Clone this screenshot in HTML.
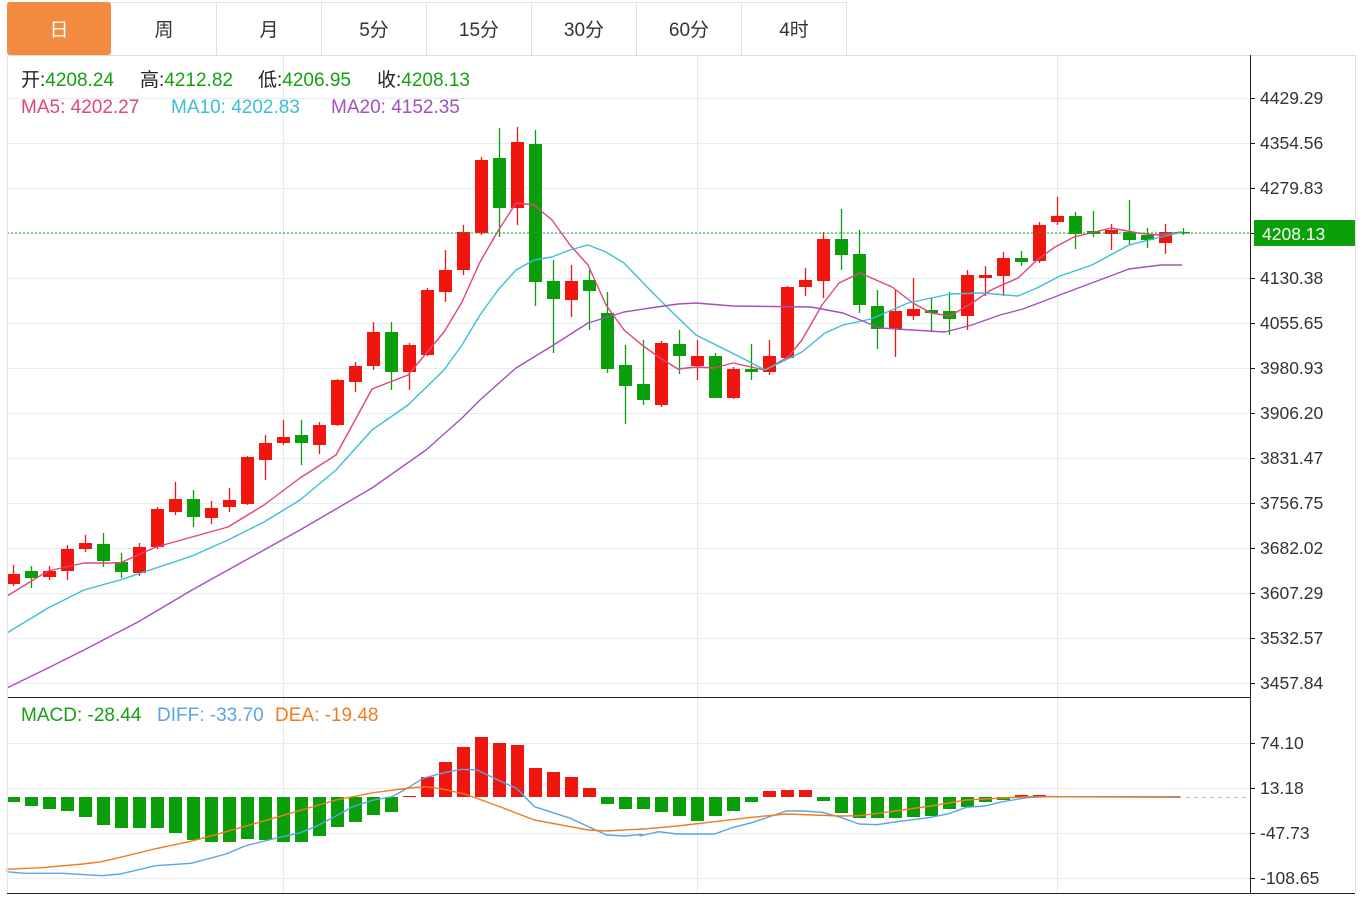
<!DOCTYPE html>
<html><head><meta charset="utf-8"><style>
body{margin:0;background:#fff;width:1371px;height:897px;overflow:hidden;font-family:"Liberation Sans","Noto Sans CJK SC",sans-serif}
svg{position:absolute;left:0;top:0}
</style></head><body>
<svg id="s" width="1371" height="897" xmlns="http://www.w3.org/2000/svg" font-family="Liberation Sans, Noto Sans CJK SC, sans-serif">
<rect x="0" y="0" width="1371" height="897" fill="#fff"/>
<g id="grid"></g>
<line x1="7" y1="55.5" x2="1355" y2="55.5" stroke="#ddd"/>
<line x1="7" y1="2.5" x2="846" y2="2.5" stroke="#e4e4e4"/>
<rect x="7" y="2" width="104" height="53" rx="3" fill="#f38b41"/>
<g stroke="#e0e0e0"><line x1="216.5" y1="2" x2="216.5" y2="55"/><line x1="321.5" y1="2" x2="321.5" y2="55"/><line x1="426.5" y1="2" x2="426.5" y2="55"/><line x1="531.5" y1="2" x2="531.5" y2="55"/><line x1="636.5" y1="2" x2="636.5" y2="55"/><line x1="741.5" y1="2" x2="741.5" y2="55"/><line x1="846.5" y1="2" x2="846.5" y2="55"/></g>
<g font-size="19" text-anchor="middle" fill="#333">
<text x="59" y="36" fill="#fff">日</text><text x="164" y="36">周</text><text x="269" y="36">月</text><text x="374" y="36">5分</text><text x="479" y="36">15分</text><text x="584" y="36">30分</text><text x="689" y="36">60分</text><text x="794" y="36">4时</text></g>
<g font-size="19">
<text x="21" y="86" fill="#222">开:<tspan fill="#15a015">4208.24</tspan></text>
<text x="140" y="86" fill="#222">高:<tspan fill="#15a015">4212.82</tspan></text>
<text x="258" y="86" fill="#222">低:<tspan fill="#15a015">4206.95</tspan></text>
<text x="377" y="86" fill="#222">收:<tspan fill="#15a015">4208.13</tspan></text>
<text x="21" y="113" fill="#e0457b">MA5: 4202.27</text>
<text x="171" y="113" fill="#3bbfd3">MA10: 4202.83</text>
<text x="331" y="113" fill="#a350bd">MA20: 4152.35</text>
<text x="21" y="721" fill="#15a015">MACD: -28.44</text>
<text x="157" y="721" fill="#5aa4e6">DIFF: -33.70</text>
<text x="275" y="721" fill="#f07c22">DEA: -19.48</text>
</g>
<g font-size="17.5" fill="#333">
<text x="1260" y="104">4429.29</text><text x="1260" y="149">4354.56</text><text x="1260" y="194">4279.83</text><text x="1260" y="284">4130.38</text><text x="1260" y="329">4055.65</text><text x="1260" y="374">3980.93</text><text x="1260" y="419">3906.20</text><text x="1260" y="464">3831.47</text><text x="1260" y="509">3756.75</text><text x="1260" y="554">3682.02</text><text x="1260" y="599">3607.29</text><text x="1260" y="644">3532.57</text><text x="1260" y="689">3457.84</text>
<text x="1260" y="749">74.10</text><text x="1260" y="794">13.18</text><text x="1260" y="839">-47.73</text><text x="1260" y="884">-108.65</text>
</g>
<g id="plot"></g>
<line x1="7" y1="233" x2="1250" y2="233" stroke="#1aa51a" stroke-dasharray="2,2"/>
<line x1="1186" y1="797.5" x2="1250" y2="797.5" stroke="#a8c8e0" stroke-dasharray="4,4"/>
<rect x="1254" y="220" width="101" height="26" fill="#0aa00a"/>
<text x="1262" y="240" font-size="17.5" fill="#fff">4208.13</text>
<line x1="7" y1="697.5" x2="1250" y2="697.5" stroke="#222"/>
<line x1="7" y1="893.5" x2="1355" y2="893.5" stroke="#222"/>
<line x1="1250.5" y1="55" x2="1250.5" y2="893" stroke="#222"/>
<line x1="1355.5" y1="55" x2="1355.5" y2="893" stroke="#e0e0e0"/>
<line x1="7.5" y1="55" x2="7.5" y2="893" stroke="#e6e6e6"/>
</svg>
<script>
var NS="http://www.w3.org/2000/svg";
function el(p,t,a){var e=document.createElementNS(NS,t);for(var k in a)e.setAttribute(k,a[k]);p.appendChild(e);return e;}
var g=document.getElementById('grid'),p=document.getElementById('plot');
[98,143,188,233,278,323,368,413,458,503,548,593,638,683,743,788,833,878].forEach(function(y){el(g,'line',{x1:7,x2:1250,y1:y+.5,y2:y+.5,stroke:'#e6edf2'});el(g,'line',{x1:1250,x2:1255,y1:y+.5,y2:y+.5,stroke:'#222'});});
[283,697,1057].forEach(function(x){el(g,'line',{x1:x+.5,x2:x+.5,y1:55,y2:893,stroke:'#e2eaf0'});});
var C=[["R",574,584,565,586],["G",571,578,566,588],["R",571,577,566,580],["R",549,571,545,580],["R",543,549,535,552],["G",544,561,533,567],["G",562,572,553,578],["R",547,573,543,576],["R",509,547,507,549],["R",499,512,482,515],["G",499,517,490,527],["R",508,518,501,524],["R",500,507,488,512],["R",457,504,456,505],["R",443,460,435,480],["R",437,443,420,445],["G",435,443,420,465],["R",425,445,422,454],["R",380,425,379,426],["R",366,382,362,392],["R",332,366,322,370],["G",332,372,322,390],["R",345,372,343,390],["R",290,355,288,356],["R",270,292,250,302],["R",232,270,225,275],["R",160,233,157,235],["G",158,208,128,237],["R",142,208,127,225],["G",144,282,130,306],["G",281,299,260,353],["R",281,300,265,317],["G",280,291,270,330],["G",313,369,292,373],["G",365,386,345,424],["G",384,400,340,405],["R",343,405,341,407],["G",344,356,330,374],["R",356,366,340,380],["G",356,398,353,398],["R",369,398,367,399],["G",369,372,344,380],["R",356,372,340,375],["R",287,358,286,359],["R",280,287,268,296],["R",239,281,232,298],["G",239,255,209,270],["G",254,305,230,313],["G",306,329,290,349],["R",311,329,290,357],["R",309,316,278,320],["G",310,313,298,332],["G",311,319,292,335],["R",275,316,270,330],["R",275,278,266,296],["R",258,276,252,296],["G",258,262,251,266],["R",225,261,222,263],["R",216,222,197,225],["G",216,234,212,249],["G",231,234,211,237],["R",230,234,224,250],["G",232,240,200,245],["G",235,240,228,248],["R",232,243,224,254],["G",232,233,228,235]];
C.forEach(function(c,i){var x=13+i*18,col=c[0]=="R"?"#f0150f":"#0a9e0a";el(p,'line',{x1:x+.5,x2:x+.5,y1:c[3],y2:c[4],stroke:col,'stroke-width':1.3});el(p,'rect',{x:x-6,y:c[1],width:13,height:Math.max(1.5,c[2]-c[1]),fill:col});});
var H=[802,806,809,811,817,825,828,828,828,833,840,842,842,839,840,842,842,836,827,822,815,812,796,777,762,747,737,743,745,768,772,777,788,804,809,809,812,816,821,816,811,802,791,790,790,801,813,818,818,818,817,816,809,807,802,800,795,795,797,797,797,797,797,797,797,797];
H.forEach(function(v,i){var x=13+i*18,z=797;var col=v<z?"#f0150f":"#0a9e0a";if(Math.abs(v-z)<0.5)return;el(p,'rect',{x:x-6,y:Math.min(v,z),width:13,height:Math.abs(v-z),fill:col});});
function pl(pts,col){el(p,'polyline',{points:pts.map(function(a){return a.join(',')}).join(' '),fill:'none',stroke:col,'stroke-width':1.4,'stroke-linejoin':'round'});}
pl([[7,596],[48,571],[84,563],[120,563],[156,547],[192,537],[228,527],[264,505],[300,478],[336,455],[372,389],[408,375],[444,332],[462,302],[480,262],[498,231],[516,203],[534,205],[552,220],[570,245],[588,265],[606,305],[624,330],[642,345],[660,358],[678,369],[696,367],[714,368],[733,363],[765,370],[788,357],[802,340],[822,305],[839,283],[860,273],[892,287],[913,303],[931,313],[950,316],[972,303],[991,290],[1018,278],[1037,260],[1055,247],[1074,237],[1111,228],[1138,233],[1157,235],[1182,232]],"#e0457b");
pl([[7,633],[48,608],[84,590],[120,580],[156,568],[192,556],[228,540],[264,522],[300,500],[336,470],[372,430],[408,405],[444,370],[462,345],[480,315],[498,290],[516,270],[534,260],[552,257],[570,250],[588,245],[606,252],[624,263],[650,290],[672,312],[696,335],[742,358],[765,370],[802,352],[825,333],[843,325],[871,319],[908,303],[950,294],[982,293],[1018,296],[1037,288],[1060,276],[1092,265],[1129,245],[1157,238],[1182,232]],"#3bbfd3");
pl([[7,688],[48,668],[84,650],[138,622],[192,590],[246,560],[300,530],[372,488],[426,450],[462,418],[480,400],[516,368],[552,346],[588,323],[624,312],[650,308],[678,304],[696,303],[733,306],[811,307],[843,313],[880,328],[945,332],[972,325],[1000,315],[1023,309],[1065,293],[1129,269],[1161,265],[1182,265]],"#a350bd");
var dz=[[15,515],[60,520],[150,520],[245,527],[290,522],[375,497],[460,490],[545,462],[590,438],[680,410],[720,400],[760,380],[810,348],[850,320],[900,300],[945,290],[985,262],[1020,235],[1070,218],[1113,208],[1150,210],[1200,240],[1245,265],[1288,320],[1375,355],[1418,380],[1462,405],[1505,408],[1548,403]].map(function(a){return [a[0]/2.41,700+a[1]/3]});
var d2=[[0,408],[40,395],[80,402],[160,402],[200,382],[240,368],[314,333],[350,333],[391,337],[430,352],[470,372],[508,374],[547,366],[585,359],[624,352],[662,341],[700,322],[740,318],[778,305],[830,293],[870,290],[1160,292]].map(function(a){return [640+a[0]/2.145,700+a[1]/3]});
pl(dz.concat(d2),"#5aa4e6");
var ez=[[15,508],[100,503],[200,492],[245,485],[290,472],[375,446],[460,424],[545,395],[630,365],[680,347],[760,318],[810,300],[900,278],[985,264],[1028,260],[1070,268],[1120,282],[1200,318],[1288,360],[1375,380],[1418,390],[1462,393],[1548,387]].map(function(a){return [a[0]/2.41,700+a[1]/3]});
var e2=[[0,388],[80,378],[160,365],[240,352],[314,342],[430,348],[470,347],[547,333],[624,318],[700,300],[778,294],[840,290],[1160,290]].map(function(a){return [640+a[0]/2.145,700+a[1]/3]});
pl(ez.concat(e2),"#f07c22");
</script>
</body></html>
